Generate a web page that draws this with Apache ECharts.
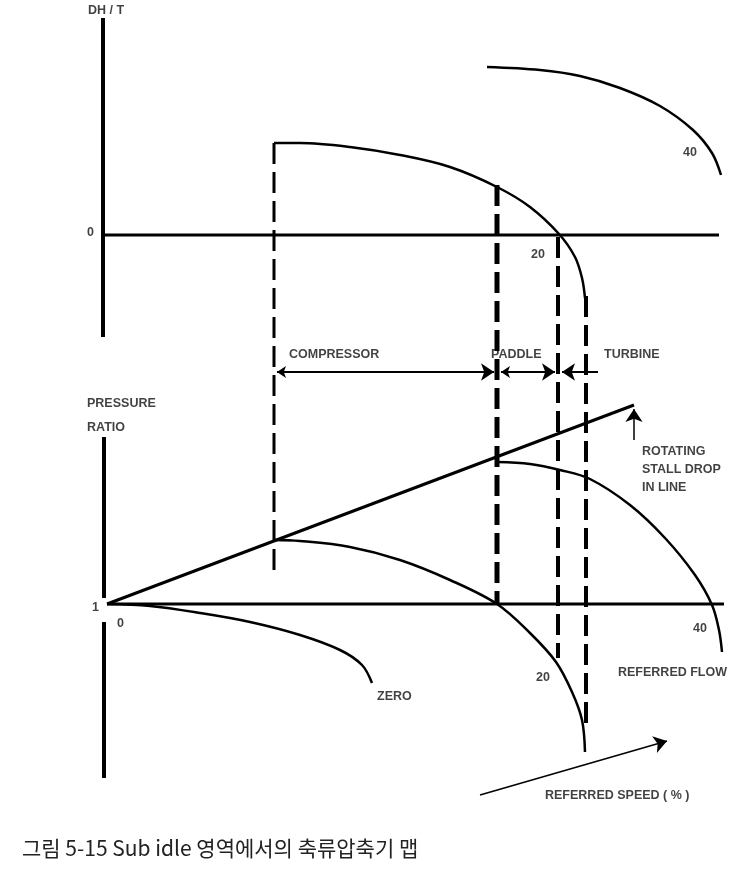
<!DOCTYPE html>
<html>
<head>
<meta charset="utf-8">
<script src="https://cdn.jsdelivr.net/npm/echarts@6/dist/echarts.min.js"></script>
<style>
html,body{margin:0;padding:0;background:#fff;}
#main{width:756px;height:871px;}
</style>
</head>
<body>
<div id="main"></div>
<script>
// diagram units: x = referred flow position, y = height on the sheet (down is bigger)
var topAxisV = [[103,18],[103,337]];
var topAxisH = [[103,235],[719,235]];
var lowAxisV1 = [[104,437],[104,598]];
var lowAxisV2 = [[104,622],[104,778]];
var lowAxisH = [[107,604],[724,604]];

var dhCurve20 = [[274,143],[300,143],[350,147],[400,155],[450,167],[497,187],[530,207],[559,234],[575,257],[582,278],[585,298]];
var dhCurve40 = [[487,67],[540,70],[580,76],[620,88],[660,106],[693,130],[712,153],[721,175]];

var prCurve20 = [[274,540],[300,541],[350,547],[400,560],[450,580],[497,604],[530,633],[556,662],[572,692],[582,720],[585,752]];
var prCurve40 = [[497,462],[530,464],[560,470],[590,479],[630,505],[665,538],[695,575],[712,605],[719,630],[722,652]];
var prCurveZero = [[107,604],[150,606],[200,613],[250,622],[300,635],[340,650],[362,665],[372,683]];
var stallLine = [[107,604],[634,405]];

var dashLines = [
  [[274,143],[274,570]],
  [[497,185],[497,605]],
  [[558,237],[558,658]],
  [[586,296],[586,726]]
];
var dashWidths = [3, 5, 4, 4];

var bothArrows = [
  [[277,372],[494,372]],
  [[501,372],[555,372]]
];
var leftArrows = [
  [[598,372],[562,372]]
];
var endArrows = [
  [[634,440],[634,409]],
  [[480,795],[667,741]]
];

var labelTexts = ['DH / T','0','20','40','COMPRESSOR','PADDLE','TURBINE','PRESSURE','RATIO','1','0',
  'ROTATING','STALL DROP','IN LINE','40','REFERRED FLOW','20','ZERO','REFERRED SPEED ( % )'];
var labelSpots = [[88,11],[87,233],[531,255],[683,153],[289,355],[491,355],[604,355],[87,404],[87,428],[92,608],[117,624],
  [642,452],[642,470],[642,488],[693,629],[618,673],[536,678],[377,697],[545,796]];

var chart = echarts.init(document.getElementById('main'));

function plain(data, width, dash){
  return {
    type:'line', data:data, symbol:'none', silent:true, animation:false,
    lineStyle:{color:'#000', width:width, type: dash || 'solid'}
  };
}
function curve(data){
  return {
    type:'line', data:data, symbol:'none', smooth:0.35, silent:true, animation:false,
    lineStyle:{color:'#000', width:2.5}
  };
}
function arrows(list, sym){
  return {
    type:'lines', coordinateSystem:'cartesian2d', silent:true, animation:false,
    symbol:sym, symbolSize:[9,13],
    lineStyle:{color:'#000', width:2, opacity:1},
    itemStyle:{color:'#000'},
    data: list.map(function(c){ return {coords:c}; })
  };
}

var series = [
  plain(topAxisV, 4), plain(topAxisH, 3),
  plain(lowAxisV1, 4), plain(lowAxisV2, 4), plain(lowAxisH, 3),
  curve(dhCurve20), curve(dhCurve40),
  curve(prCurve20), curve(prCurve40), curve(prCurveZero),
  plain(stallLine, 3)
];
dashLines.forEach(function(d, i){
  series.push(plain(d, dashWidths[i], [21, 8]));
});
series.push(arrows(bothArrows, ['arrow','arrow']));
series.push(arrows(leftArrows, ['none','arrow']));
var ea = arrows(endArrows, ['none','arrow']);
ea.lineStyle.width = 1.5;
ea.symbolSize = [7,13];
series.push(ea);

series.push({
  type:'scatter', symbolSize:0, silent:true, animation:false,
  data: labelSpots.map(function(p, i){ return {value:p, name:labelTexts[i]}; }),
  label:{
    show:true, position:[0,0], align:'left', verticalAlign:'middle',
    formatter:'{b}', color:'#111', fontWeight:'bold', fontSize:12.5,
    fontFamily:'Liberation Sans, Arial, sans-serif'
  }
});

chart.setOption({
  backgroundColor:'#fff',
  animation:false,
  title:{
    text:'그림 5-15 Sub idle 영역에서의 축류압축기 맵',
    left:17, top:833,
    textStyle:{fontFamily:'Noto Sans CJK KR', fontWeight:'normal', fontSize:21, color:'#222'}
  },
  grid:{left:0, right:0, top:0, bottom:0},
  xAxis:{type:'value', min:0, max:756, show:false},
  yAxis:{type:'value', min:0, max:871, inverse:true, show:false},
  series:series
});
</script>
</body>
</html>
